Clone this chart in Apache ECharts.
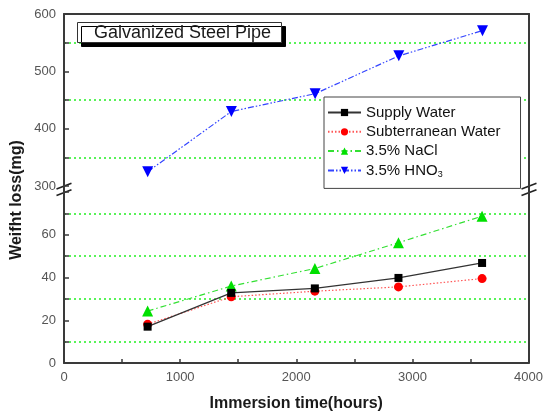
<!DOCTYPE html>
<html>
<head>
<meta charset="utf-8">
<script src="https://cdn.jsdelivr.net/npm/echarts@6/dist/echarts.min.js"></script>
<style>
  html, body { margin: 0; padding: 0; background: #fff; }
  #chart { width: 546px; height: 413px; }
</style>
</head>
<body>
<div id="chart"></div>
<script>
// Immersion times (hours) and weight loss (mg) for each solution
const hours = [720, 1440, 2160, 2880, 3600];
const supplyWater = [17, 32.8, 34.9, 39.8, 46.8];
const subterraneanWater = [18.1, 31, 33.6, 35.6, 39.5];
const naclSolution = [24.3, 36, 44.2, 56.3, 68.7];
const hno3Solution = [325, 430, 461, 527, 571];

const seriesNames = ['Supply Water', 'Subterranean Water', '3.5% NaCl', '3.5% HNO3'];
const xTickLabels = ['0', '1000', '2000', '3000', '4000'];

const FONT = 'Liberation Sans, Arial, Helvetica, sans-serif';
const AXIS = '#3a3a3a';
const GRID_GREEN = '#22f022';

// two stacked panels sharing the time axis; the y axis is broken between them
const L = 64, R = 17;
const upperTop = 14, upperH = 172;
const lowerTop = 192, lowerBottom = 49.5;

const chart = echarts.init(document.getElementById('chart'), null, { renderer: 'canvas' });

const pair = ys => hours.map((h, i) => [h, ys[i]]);

const labelStyle = { color: '#555', fontSize: 13, fontFamily: FONT };
const greenDots = { show: true, lineStyle: { color: GRID_GREEN, width: 1.6, type: [2, 3] } };

function breakMarks(x) {
  const yA = upperTop + upperH + 3;
  return [
    { type: 'line', shape: { x1: x, y1: upperTop + upperH, x2: x, y2: lowerTop }, style: { stroke: AXIS, lineWidth: 2 } },
    { type: 'line', shape: { x1: x - 7.5, y1: yA, x2: x + 7.5, y2: yA - 5.7 }, style: { stroke: '#222', lineWidth: 1.6 } },
    { type: 'line', shape: { x1: x - 7.5, y1: yA + 6.5, x2: x + 7.5, y2: yA + 0.8 }, style: { stroke: '#222', lineWidth: 1.6 } }
  ];
}

const option = {
  animation: false,
  backgroundColor: '#fff',
  title: {
    text: 'Galvanized Steel Pipe',
    left: 77, top: 22,
    padding: [1, 11, 0, 17],
    backgroundColor: '#fff',
    borderColor: '#333', borderWidth: 1,
    shadowColor: '#000', shadowBlur: 0, shadowOffsetX: 4, shadowOffsetY: 4,
    textStyle: { fontFamily: FONT, fontSize: 18, fontWeight: 'normal', color: '#1a1a1a', lineHeight: 20 }
  },
  legend: {
    orient: 'vertical',
    left: 324, top: 97,
    data: seriesNames,
    itemWidth: 33, itemHeight: 9, itemGap: 4.3,
    padding: [8, 20, 9, 3],
    backgroundColor: '#fff',
    borderColor: '#444', borderWidth: 1,
    textStyle: {
      fontFamily: FONT, fontSize: 15, color: '#111', lineHeight: 15,
      rich: { sub: { fontFamily: FONT, fontSize: 9, color: '#111', padding: [9, 0, 0, 0] } }
    },
    formatter: name => name === '3.5% HNO3' ? '3.5% HNO{sub|3}' : name
  },
  grid: [
    { left: L, right: R, top: upperTop, height: upperH },
    { left: L, right: R, top: lowerTop, bottom: lowerBottom }
  ],
  xAxis: [
    {
      gridIndex: 0, type: 'value', position: 'top', min: 0, max: 4000, interval: 1000,
      axisLine: { show: true, lineStyle: { color: AXIS, width: 2 } },
      axisTick: { show: false }, axisLabel: { show: false }, splitLine: { show: false }
    },
    {
      gridIndex: 1, type: 'value', position: 'bottom', min: 0, max: 4000, interval: 1000,
      axisLine: { show: true, onZero: false, lineStyle: { color: AXIS, width: 2 } },
      axisTick: { show: true, inside: true, length: 4, lineStyle: { color: AXIS, width: 1.5 } },
      minorTick: { show: true, splitNumber: 2, length: 4, lineStyle: { color: AXIS, width: 1.5 } },
      axisLabel: Object.assign({ margin: 8, formatter: v => xTickLabels[Math.round(v / 1000)] }, labelStyle),
      splitLine: { show: false },
      name: 'Immersion time(hours)', nameLocation: 'middle', nameGap: 33,
      nameTextStyle: { fontFamily: FONT, fontSize: 16, fontWeight: 'bold', color: '#1a1a1a' }
    }
  ],
  yAxis: [
    {
      gridIndex: 0, type: 'value', position: 'left', min: 300, max: 600, interval: 100,
      axisLine: { show: true, lineStyle: { color: AXIS, width: 2 } },
      axisTick: { show: true, inside: true, length: 5, lineStyle: { color: AXIS, width: 1.5 } },
      minorTick: { show: true, splitNumber: 2, length: 5, lineStyle: { color: AXIS, width: 1.5 } },
      axisLabel: Object.assign({ margin: 8 }, labelStyle),
      splitLine: { show: false },
      minorSplitLine: greenDots
    },
    {
      gridIndex: 0, type: 'value', position: 'right', min: 300, max: 600, interval: 100,
      axisLine: { show: true, lineStyle: { color: AXIS, width: 2 } },
      axisTick: { show: false }, axisLabel: { show: false }, splitLine: { show: false }
    },
    {
      gridIndex: 1, type: 'value', position: 'left', min: 0, max: 80, interval: 20,
      axisLine: { show: true, lineStyle: { color: AXIS, width: 2 } },
      axisTick: { show: true, inside: true, length: 5, lineStyle: { color: AXIS, width: 1.5 } },
      minorTick: { show: true, splitNumber: 2, length: 5, lineStyle: { color: AXIS, width: 1.5 } },
      axisLabel: Object.assign({ margin: 8, formatter: v => (v >= 80 ? '' : String(v)) }, labelStyle),
      splitLine: { show: false },
      minorSplitLine: greenDots
    },
    {
      gridIndex: 1, type: 'value', position: 'right', min: 0, max: 80, interval: 20,
      axisLine: { show: true, lineStyle: { color: AXIS, width: 2 } },
      axisTick: { show: false }, axisLabel: { show: false }, splitLine: { show: false }
    }
  ],
  series: [
    {
      name: seriesNames[0], type: 'line', xAxisIndex: 1, yAxisIndex: 2, z: 4,
      data: pair(supplyWater),
      symbol: 'rect', symbolSize: 8,
      itemStyle: { color: '#000' },
      lineStyle: { color: '#333', width: 1.2, type: 'solid' }
    },
    {
      name: seriesNames[1], type: 'line', xAxisIndex: 1, yAxisIndex: 2, z: 3,
      data: pair(subterraneanWater),
      symbol: 'circle', symbolSize: 9,
      itemStyle: { color: '#ff0000' },
      lineStyle: { color: '#ff5555', width: 1.2, type: [1.5, 2] }
    },
    {
      name: seriesNames[2], type: 'line', xAxisIndex: 1, yAxisIndex: 2, z: 3,
      data: pair(naclSolution),
      symbol: 'triangle', symbolSize: 11,
      itemStyle: { color: '#00e000' },
      lineStyle: { color: '#33e033', width: 1.2, type: [6, 3, 1.5, 3] }
    },
    {
      name: seriesNames[3], type: 'line', xAxisIndex: 0, yAxisIndex: 0, z: 3,
      data: pair(hno3Solution),
      symbol: 'triangle', symbolRotate: 180, symbolSize: 11,
      itemStyle: { color: '#0000ff' },
      lineStyle: { color: '#3344ff', width: 1.2, type: [6, 2, 1.5, 2, 1.5, 2] }
    }
  ],
  graphic: [
    {
      type: 'text', x: 17, y: 200, rotation: Math.PI / 2,
      style: {
        text: 'Weifht loss(mg)', fontFamily: FONT, fontSize: 16, fontWeight: 'bold',
        fill: '#1a1a1a', align: 'center', verticalAlign: 'middle'
      }
    },
    ...breakMarks(L),
    ...breakMarks(546 - R)
  ]
};

chart.setOption(option);
</script>
</body>
</html>
